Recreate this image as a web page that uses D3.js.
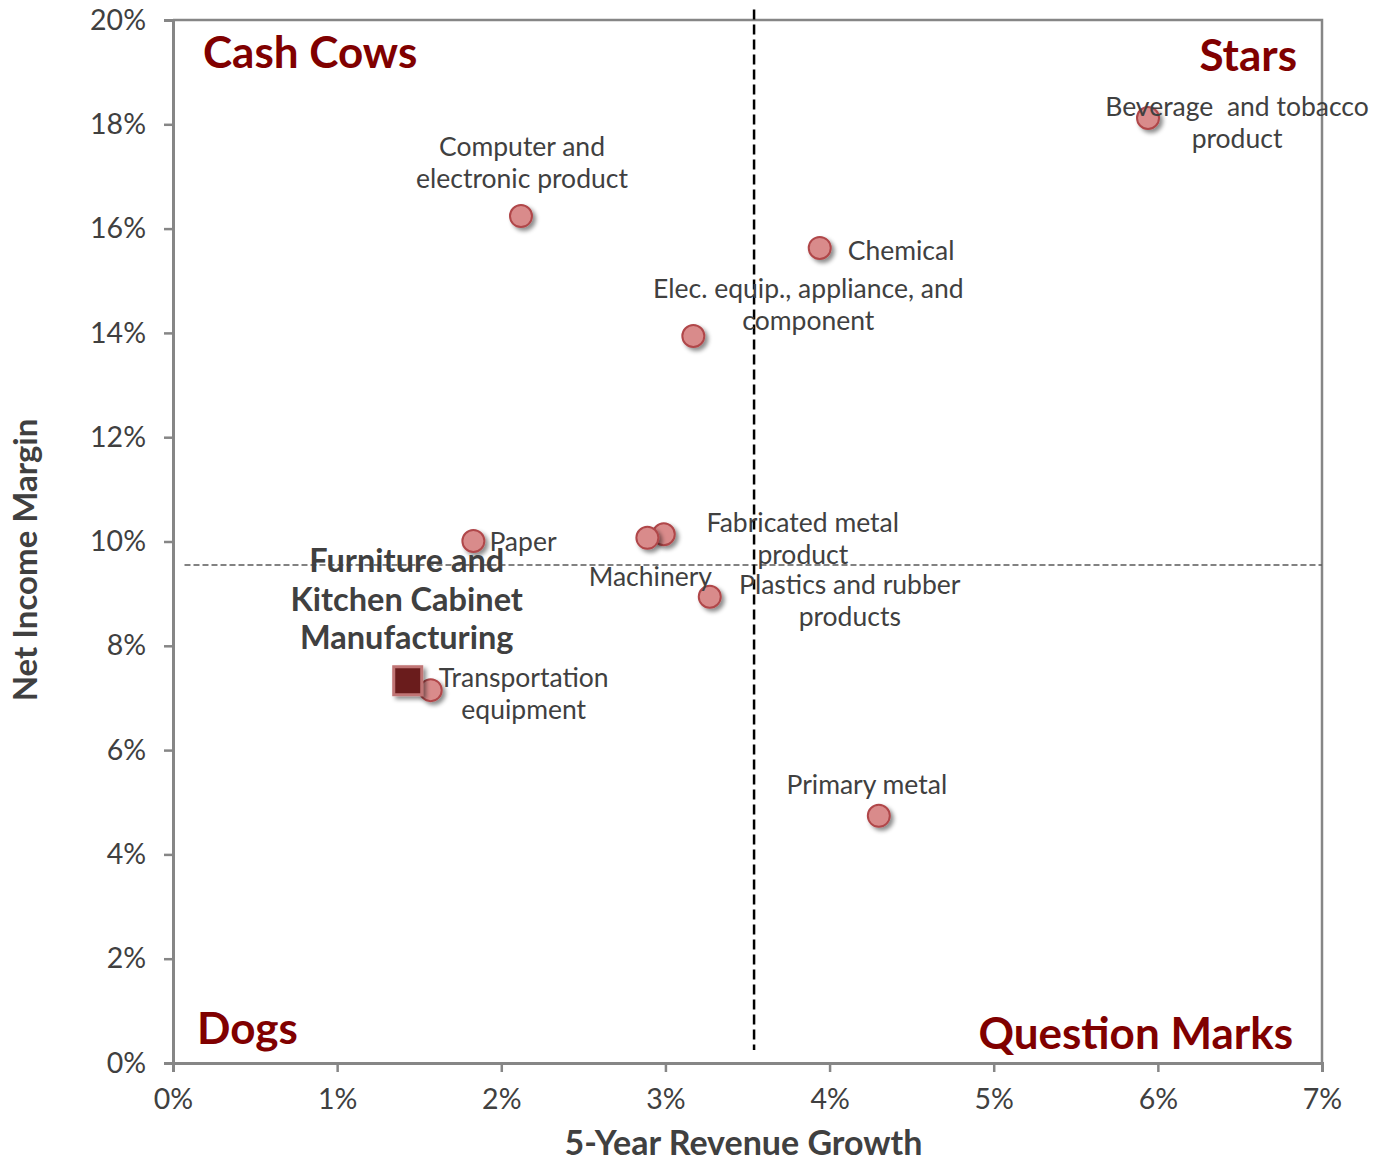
<!DOCTYPE html>
<html>
<head>
<meta charset="utf-8">
<script src="https://cdn.jsdelivr.net/npm/d3@7"></script>
<style>
  body { margin: 0; background: #fff; }
  text { font-family: Lato, "Open Sans", sans-serif; }
</style>
</head>
<body>
<div id="chart"></div>
<script>
// industries: [revenue growth %, net income margin %]
var industries = ["Beverage  and tobacco|product", "Computer and|electronic product", "Chemical",
  "Elec. equip., appliance, and|component", "Paper", "Fabricated metal|product", "Machinery",
  "Plastics and rubber|products", "Transportation|equipment", "Primary metal"]
var growth = [5.94, 2.12, 3.94, 3.17, 1.83, 2.99, 2.89, 3.27, 1.57, 4.30]
var margin = [18.12, 16.24, 15.63, 13.94, 10.01, 10.14, 10.07, 8.94, 7.15, 4.74]

// the highlighted industry
var focusName = ["Furniture and", "Kitchen Cabinet", "Manufacturing"]
var focusGrowth = 1.43
var focusMargin = 7.33

// quadrant split (averages)
var avgGrowth = 3.54
var avgMargin = 9.55

var xTicks = [0, 1, 2, 3, 4, 5, 6, 7]
var yTicks = [0, 2, 4, 6, 8, 10, 12, 14, 16, 18, 20]

// label placement relative to each point: dx, dy of first line, anchor
var labelPos = [
  [89, -11, "middle"], [1, -69, "middle"], [28, 3, "start"], [115, -47, "middle"], [16, 1, "start"],
  [139, -11, "middle"], [3, 39, "middle"], [140, -12, "middle"], [93, -12, "middle"], [-12, -31, "middle"]
]

var W = 1385, H = 1162
var m = {left: 173, top: 20, right: 63, bottom: 99}

var svg = d3.select("#chart").append("svg")
    .attr("width", W)
    .attr("height", H)

var defs = svg.append("defs")
var f = defs.append("filter").attr("id", "shadow")
    .attr("x", "-50%").attr("y", "-50%").attr("width", "200%").attr("height", "200%")
f.append("feDropShadow")
    .attr("dx", 3).attr("dy", 3).attr("stdDeviation", 2.2)
    .attr("flood-color", "#000").attr("flood-opacity", 0.45)

var x = d3.scaleLinear().domain([0, 7]).range([m.left, W - m.right])
var y = d3.scaleLinear().domain([0, 20]).range([H - m.bottom, m.top])

var axisColor = "#868686"
var textColor = "#404040"

// plot frame (top and right)
svg.append("path")
    .attr("d", "M" + x(0) + "," + y(20) + "H" + x(7) + "V" + y(0))
    .attr("fill", "none")
    .attr("stroke", axisColor)
    .attr("stroke-width", 2.5)

// axes
var xAxis = svg.append("g")
    .attr("transform", "translate(0," + y(0) + ")")
    .call(d3.axisBottom(x).tickValues(xTicks).tickFormat(function (d) { return d + "%" }).tickSize(9).tickPadding(17))
var yAxis = svg.append("g")
    .attr("transform", "translate(" + x(0) + ",0)")
    .call(d3.axisLeft(y).tickValues(yTicks).tickFormat(function (d) { return d + "%" }).tickSize(9).tickPadding(18))

;[xAxis, yAxis].forEach(function (g) {
  g.select(".domain").attr("stroke", axisColor).attr("stroke-width", 3)
  g.selectAll(".tick line").attr("stroke", axisColor).attr("stroke-width", 2.5)
  g.selectAll(".tick text")
      .attr("fill", textColor)
      .style("font-size", "28.5px")
      .style("font-family", "Lato, sans-serif")
})

// average lines
svg.append("line")
    .attr("x1", x(0.07)).attr("x2", x(7))
    .attr("y1", y(avgMargin)).attr("y2", y(avgMargin))
    .attr("stroke", "#595959")
    .attr("stroke-width", 1.5)
    .attr("stroke-dasharray", "6,3")
svg.append("line")
    .attr("x1", x(avgGrowth)).attr("x2", x(avgGrowth))
    .attr("y1", y(20.2)).attr("y2", y(0.25))
    .attr("stroke", "#000")
    .attr("stroke-width", 2.5)
    .attr("stroke-dasharray", "10,5")

// quadrant labels
var quad = [
  ["Cash Cows", x(0) + 30, 68, "start"],
  ["Stars", x(7) - 25, 71, "end"],
  ["Dogs", x(0) + 24, 1044, "start"],
  ["Question Marks", x(7) - 29, 1049, "end"]
]
svg.selectAll(".quad").data(quad).enter().append("text")
    .attr("class", "quad")
    .attr("x", function (d) { return d[1] })
    .attr("y", function (d) { return d[2] })
    .attr("text-anchor", function (d) { return d[3] })
    .attr("fill", "#800000")
    .style("font-size", "44px")
    .style("font-weight", "bold")
    .text(function (d) { return d[0] })

// points
var pts = industries.map(function (n, i) {
  return {name: n, gx: growth[i], my: margin[i], pos: labelPos[i]}
})

svg.selectAll(".dot").data(pts).enter().append("circle")
    .attr("class", "dot")
    .attr("cx", function (d) { return x(d.gx) })
    .attr("cy", function (d) { return y(d.my) })
    .attr("r", 11)
    .attr("fill", "#d98b8b")
    .attr("stroke", "#b0474a")
    .attr("stroke-width", 2)
    .attr("filter", "url(#shadow)")

// focus square
var sq = 28
svg.append("rect")
    .attr("x", x(focusGrowth) - sq / 2)
    .attr("y", y(focusMargin) - sq / 2)
    .attr("width", sq).attr("height", sq)
    .attr("fill", "#6b1d1f")
    .attr("stroke", "#c07474")
    .attr("stroke-width", 3)
    .attr("filter", "url(#shadow)")

// point labels
var lab = svg.selectAll(".lab").data(pts).enter().append("text")
    .attr("class", "lab")
    .attr("fill", textColor)
    .style("font-size", "26.5px")
    .attr("text-anchor", function (d) { return d.pos[2] })
    .attr("transform", function (d) {
      return "translate(" + (x(d.gx) + d.pos[0]) + "," + (y(d.my) + d.pos[1]) + ")"
    })
lab.selectAll("tspan").data(function (d) { return d.name.split("|") }).enter().append("tspan")
    .attr("x", 0)
    .attr("y", function (d, i) { return i * 32 })
    .attr("dy", "0.35em")
    .style("white-space", "pre")
    .text(function (d) { return d })

// focus label
svg.append("text")
    .attr("fill", textColor)
    .attr("text-anchor", "middle")
    .style("font-size", "32.5px")
    .style("font-weight", "bold")
    .attr("transform", "translate(" + (x(focusGrowth) - 1) + "," + (y(focusMargin) - 120) + ")")
  .selectAll("tspan").data(focusName).enter().append("tspan")
    .attr("x", 0)
    .attr("y", function (d, i) { return i * 38.5 })
    .attr("dy", "0.35em")
    .text(function (d) { return d })

// axis titles
svg.append("text")
    .attr("x", x(3.5) - 4)
    .attr("y", 1155)
    .attr("text-anchor", "middle")
    .attr("fill", textColor)
    .style("font-size", "34px")
    .style("font-weight", "bold")
    .text("5-Year Revenue Growth")
svg.append("text")
    .attr("transform", "translate(37," + 560 + ") rotate(-90)")
    .attr("text-anchor", "middle")
    .attr("fill", textColor)
    .style("font-size", "33px")
    .style("font-weight", "bold")
    .text("Net Income Margin")
</script>
</body>
</html>
